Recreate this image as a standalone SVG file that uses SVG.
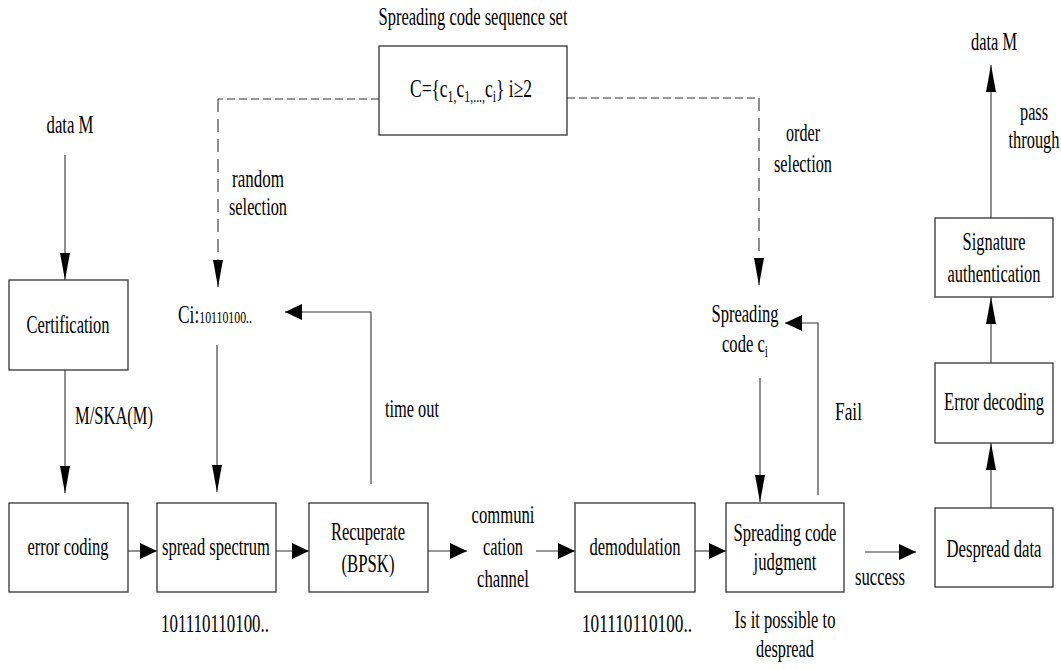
<svg xmlns="http://www.w3.org/2000/svg" width="1061" height="670" viewBox="0 0 1061 670" font-family="Liberation Serif, Times New Roman, serif">
  <defs>
    <style>
      .box { fill: #fff; stroke: #333; stroke-width: 1.3; }
      .ln { fill: none; stroke: #333; stroke-width: 1.1; }
      .dh { stroke-dasharray: 8 4; }
      .dv { stroke-dasharray: 13 7; }
      .t { font-family: "Liberation Serif", "Times New Roman", serif; font-size: 25px; fill: #000; }
      .c { text-anchor: middle; }
      .sm { font-size: 17px; }
    </style>
    <!-- slim head for vertical runs -->
    <marker id="av" markerUnits="userSpaceOnUse" markerWidth="27" markerHeight="10" refX="27" refY="5" orient="auto">
      <path d="M0,0 L27,5 L0,10 z" fill="#000"/>
    </marker>
    <!-- short head for horizontal runs -->
    <marker id="ah" markerUnits="userSpaceOnUse" markerWidth="17" markerHeight="16" refX="17" refY="8" orient="auto">
      <path d="M0,0 L17,8 L0,16 z" fill="#000"/>
    </marker>
  </defs>

  <rect width="1061" height="670" fill="#fff"/>

  <!-- connectors -->
  <g id="connectors">
    <path class="ln" d="M65 155 V280" marker-end="url(#av)"/>
    <path class="ln" d="M65 370 V493" marker-end="url(#av)"/>
    <path class="ln" d="M217 345 V492" marker-end="url(#av)"/>
    <path class="ln dh" d="M379 99 H218"/>
    <path class="ln dv" d="M218 99 V287" marker-end="url(#av)"/>
    <path class="ln dh" d="M567 98 H759"/>
    <path class="ln dv" d="M759 98 V285" marker-end="url(#av)"/>
    <path class="ln" d="M128 551 H157" marker-end="url(#ah)"/>
    <path class="ln" d="M276 551 H309" marker-end="url(#ah)"/>
    <path class="ln" d="M428 551 H467" marker-end="url(#ah)"/>
    <path class="ln" d="M536 551 H575" marker-end="url(#ah)"/>
    <path class="ln" d="M695 551 H726" marker-end="url(#ah)"/>
    <path class="ln" d="M865 552 H916" marker-end="url(#ah)"/>
    <path class="ln" d="M371 484 V312 H285" marker-end="url(#ah)"/>
    <path class="ln" d="M818 495 V323 H785" marker-end="url(#ah)"/>
    <path class="ln" d="M760 378 V502" marker-end="url(#av)"/>
    <path class="ln" d="M991 508 V443" marker-end="url(#av)"/>
    <path class="ln" d="M991 363 V297" marker-end="url(#av)"/>
    <path class="ln" d="M991 218 V65" marker-end="url(#av)"/>
  </g>

  <!-- code sequence set -->
  <g id="code-set">
    <text class="t c" x="473" y="25" textLength="189" lengthAdjust="spacingAndGlyphs">Spreading code sequence set</text>
    <rect class="box" x="379" y="46" width="188" height="89"/>
    <text class="t" x="410" y="97" textLength="122" lengthAdjust="spacingAndGlyphs">C={c<tspan class="sm" dy="5">1,</tspan><tspan dy="-5">c</tspan><tspan class="sm" dy="5">1,...,</tspan><tspan dy="-5">c</tspan><tspan class="sm" dy="5">i</tspan><tspan dy="-5">} i≥2</tspan></text>
  </g>

  <!-- sender side -->
  <g id="data-in">
    <text class="t c" x="70" y="133" textLength="47" lengthAdjust="spacingAndGlyphs">data M</text>
  </g>
  <g id="certification">
    <rect class="box" x="9" y="280" width="119" height="90"/>
    <text class="t c" x="68" y="333" textLength="83" lengthAdjust="spacingAndGlyphs">Certification</text>
  </g>
  <g id="lbl-signed">
    <text class="t" x="75" y="424" textLength="78" lengthAdjust="spacingAndGlyphs">M/SKA(M)</text>
  </g>
  <g id="lbl-random">
    <text class="t c" x="258" y="187" textLength="52" lengthAdjust="spacingAndGlyphs">random</text>
    <text class="t c" x="258" y="215" textLength="58" lengthAdjust="spacingAndGlyphs">selection</text>
  </g>
  <g id="code-ci">
    <text class="t" x="178" y="323" textLength="74" lengthAdjust="spacingAndGlyphs">Ci:<tspan class="sm">10110100..</tspan></text>
  </g>
  <g id="lbl-timeout">
    <text class="t" x="385" y="417" textLength="54" lengthAdjust="spacingAndGlyphs">time out</text>
  </g>
  <g id="error-coding">
    <rect class="box" x="9" y="503" width="119" height="89"/>
    <text class="t c" x="68" y="555" textLength="81" lengthAdjust="spacingAndGlyphs">error coding</text>
  </g>
  <g id="spread-spectrum">
    <rect class="box" x="157" y="503" width="119" height="89"/>
    <text class="t c" x="216" y="555" textLength="108" lengthAdjust="spacingAndGlyphs">spread spectrum</text>
    <text class="t c" x="215" y="632" textLength="108" lengthAdjust="spacingAndGlyphs">101110110100..</text>
  </g>
  <g id="recuperate">
    <rect class="box" x="309" y="503" width="119" height="89"/>
    <text class="t c" x="368" y="540" textLength="74" lengthAdjust="spacingAndGlyphs">Recuperate</text>
    <text class="t c" x="368" y="572" textLength="53" lengthAdjust="spacingAndGlyphs">(BPSK)</text>
  </g>
  <g id="channel">
    <text class="t c" x="503" y="523" textLength="63" lengthAdjust="spacingAndGlyphs">communi</text>
    <text class="t c" x="503" y="555" textLength="40" lengthAdjust="spacingAndGlyphs">cation</text>
    <text class="t c" x="503" y="587" textLength="52" lengthAdjust="spacingAndGlyphs">channel</text>
  </g>

  <!-- receiver side -->
  <g id="demodulation">
    <rect class="box" x="575" y="503" width="120" height="89"/>
    <text class="t c" x="635" y="555" textLength="91" lengthAdjust="spacingAndGlyphs">demodulation</text>
    <text class="t c" x="637" y="632" textLength="110" lengthAdjust="spacingAndGlyphs">101110110100..</text>
  </g>
  <g id="lbl-order">
    <text class="t c" x="803" y="141" textLength="34" lengthAdjust="spacingAndGlyphs">order</text>
    <text class="t c" x="803" y="172" textLength="58" lengthAdjust="spacingAndGlyphs">selection</text>
  </g>
  <g id="spreading-code-ci">
    <text class="t c" x="745" y="322" textLength="67" lengthAdjust="spacingAndGlyphs">Spreading</text>
    <text class="t" x="722" y="352" textLength="46" lengthAdjust="spacingAndGlyphs">code c<tspan class="sm" dy="5">i</tspan></text>
  </g>
  <g id="lbl-fail">
    <text class="t" x="835" y="420" textLength="27" lengthAdjust="spacingAndGlyphs">Fail</text>
  </g>
  <g id="judgment">
    <rect class="box" x="726" y="503" width="118" height="89"/>
    <text class="t c" x="785" y="541" textLength="103" lengthAdjust="spacingAndGlyphs">Spreading code</text>
    <text class="t c" x="785" y="570" textLength="63" lengthAdjust="spacingAndGlyphs">judgment</text>
    <text class="t c" x="785" y="628" textLength="101" lengthAdjust="spacingAndGlyphs">Is it possible to</text>
    <text class="t c" x="785" y="657" textLength="58" lengthAdjust="spacingAndGlyphs">despread</text>
  </g>
  <g id="lbl-success">
    <text class="t" x="855" y="585" textLength="50" lengthAdjust="spacingAndGlyphs">success</text>
  </g>
  <g id="despread-data">
    <rect class="box" x="935" y="508" width="118" height="79"/>
    <text class="t c" x="994" y="557" textLength="95" lengthAdjust="spacingAndGlyphs">Despread data</text>
  </g>
  <g id="error-decoding">
    <rect class="box" x="935" y="363" width="118" height="80"/>
    <text class="t c" x="994" y="410" textLength="100" lengthAdjust="spacingAndGlyphs">Error decoding</text>
  </g>
  <g id="signature-auth">
    <rect class="box" x="935" y="218" width="118" height="79"/>
    <text class="t c" x="994" y="250" textLength="63" lengthAdjust="spacingAndGlyphs">Signature</text>
    <text class="t c" x="994" y="282" textLength="93" lengthAdjust="spacingAndGlyphs">authentication</text>
  </g>
  <g id="lbl-pass">
    <text class="t c" x="1034" y="120" textLength="28" lengthAdjust="spacingAndGlyphs">pass</text>
    <text class="t c" x="1034" y="148" textLength="51" lengthAdjust="spacingAndGlyphs">through</text>
  </g>
  <g id="data-out">
    <text class="t c" x="994" y="50" textLength="46" lengthAdjust="spacingAndGlyphs">data M</text>
  </g>
</svg>
